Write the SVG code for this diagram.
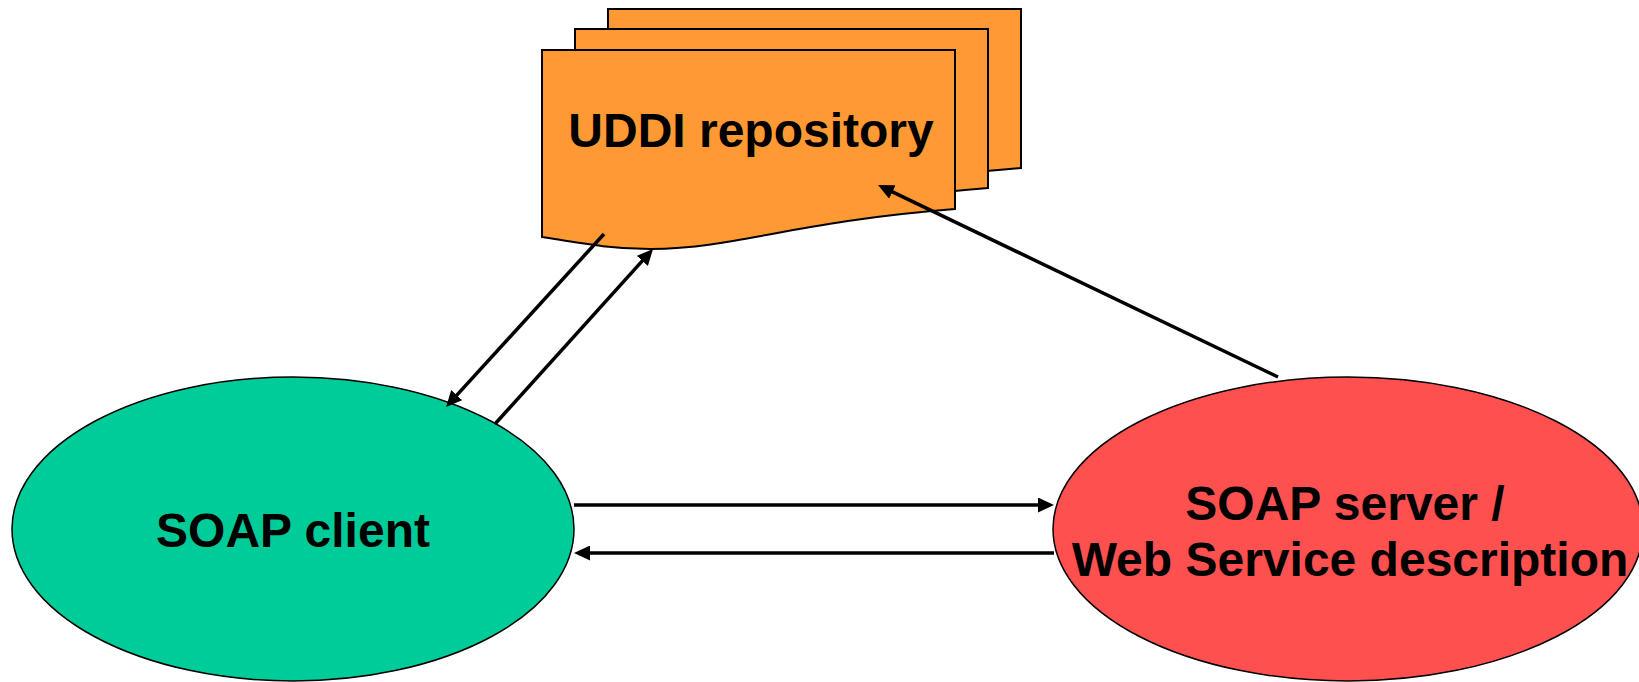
<svg xmlns="http://www.w3.org/2000/svg" width="1639" height="682" viewBox="0 0 1639 682">
  <style>
    .doc { fill: #FF9933; stroke: #000; stroke-width: 2; stroke-linejoin: miter; }
    .oval { stroke: #000; stroke-width: 1.5; }
    .label { font-family: "Liberation Sans", Arial, sans-serif; font-weight: bold; font-size: 48px; fill: #000; text-anchor: middle; }
    .conn { stroke: #000; stroke-width: 3.5; fill: none; marker-end: url(#head); }
  </style>
  <defs>
    <marker id="head" markerUnits="userSpaceOnUse" viewBox="0 0 16 15" markerWidth="16" markerHeight="15" refX="4" refY="7.5" orient="auto">
      <path d="M0,0 L16,7.5 L0,15 z" fill="#000"/>
    </marker>
    <!-- one sheet of the stacked document shape -->
    <path id="sheet" d="M542,50 L955,50 L955,209 C790,222 740,248 650,249 C610,249 580,243 542,237 Z"/>
  </defs>

  <g id="uddi-repository">
    <use href="#sheet" class="doc" transform="translate(66,-41)"/>
    <use href="#sheet" class="doc" transform="translate(33,-21)"/>
    <use href="#sheet" class="doc"/>
    <text class="label" x="751" y="146.5">UDDI repository</text>
  </g>

  <g id="soap-client">
    <ellipse class="oval" cx="293" cy="529" rx="281" ry="152" fill="#00CC99"/>
    <text class="label" x="293" y="547">SOAP client</text>
  </g>

  <g id="soap-server">
    <ellipse class="oval" cx="1348" cy="529" rx="295" ry="152" fill="#FF5050"/>
    <text class="label" x="1345" y="520">SOAP server /</text>
    <text class="label" x="1350" y="576">Web Service description</text>
  </g>

  <g id="connectors">
    <line class="conn" x1="604" y1="234" x2="454.1" y2="398.1"/>
    <line class="conn" x1="495" y1="424" x2="645" y2="257.9"/>
    <line class="conn" x1="574" y1="505" x2="1042" y2="505"/>
    <line class="conn" x1="1054" y1="553" x2="586" y2="553"/>
    <line class="conn" x1="1278" y1="377" x2="888.8" y2="190.2"/>
  </g>
</svg>
